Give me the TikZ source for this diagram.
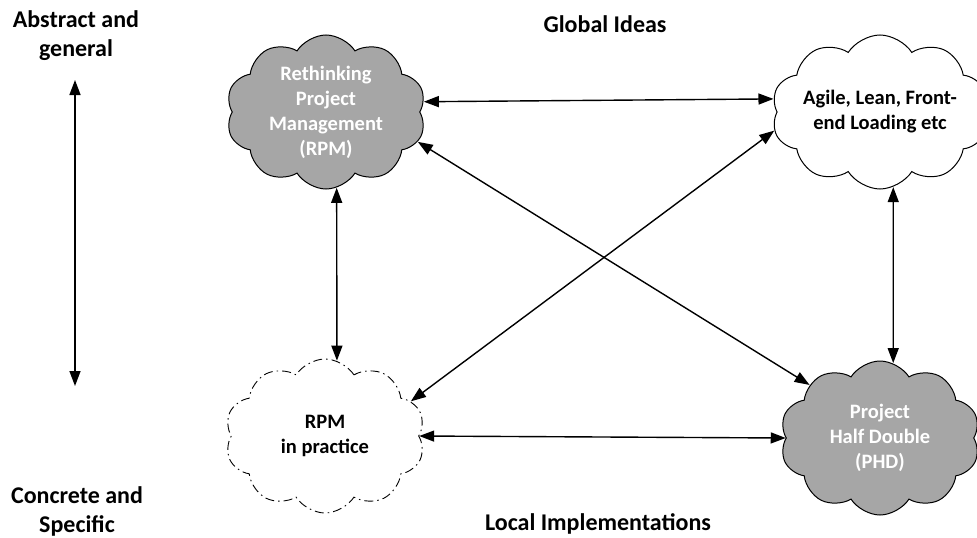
\documentclass[tikz,border=0pt]{standalone}
\usepackage{fontspec}
\setmainfont{Carlito}
\usetikzlibrary{shapes.symbols,arrows.meta}
\begin{document}
\begin{tikzpicture}[x=1pt,y=-1pt,
  cloudbase/.style={cloud, cloud puffs=10, cloud puff arc=115, cloud ignores aspect,
    minimum width=200pt, minimum height=154pt, draw=black, line width=1pt,
    align=center, font=\bfseries\fontsize{20.5}{25}\selectfont, inner sep=0pt},
  cloudgray/.style={cloudbase, fill=gray!70, text=white},
  cloudwhite/.style={cloudbase, fill=white, text=black},
  clouddash/.style={cloudbase, fill=white, text=black, dash pattern=on 9pt off 4pt on 1.5pt off 4pt, line width=0.9pt},
  lbl/.style={font=\bfseries\fontsize{24}{29}\selectfont, align=center, text=black},
  biarrow/.style={{Triangle[length=15pt,width=11pt]}-{Triangle[length=15pt,width=11pt]}, line width=1.4pt}
]
\path[use as bounding box] (0,0) rectangle (977,538);
\node[cloudgray]  (rpm)   at (326,112) {Rethinking\\Project\\Management\\(RPM)};
\node[cloudwhite] (agile) at (880,112) {Agile, Lean, Front-\\end Loading etc};
\node[clouddash]  (prac)  at (325,436) {RPM\\in practice};
\node[cloudgray]  (phd)   at (880,438) {Project\\Half Double\\(PHD)};

\node[lbl] (abs) at (76,36) {Abstract and\\general};
\node[lbl] (con) at (77,511) {Concrete and\\Specific};
\node[lbl] (glob) at (605,24) {Global Ideas};
\node[lbl] (loc) at (598,524) {Local Implementations};

\coordinate (vtop) at (75,80);
\coordinate (vbot) at (75,386);
\draw[biarrow] (vtop) -- (vbot);

\draw[biarrow] (rpm.6) -- (agile.173);
\draw[biarrow] (prac.east) -- (phd.west);
\draw[biarrow] (rpm.-82) -- (prac.81);
\draw[biarrow] (agile.-80) -- (phd.80);
\draw[biarrow] (rpm.-18) -- (phd.143);
\draw[biarrow] (agile.190) -- (prac.22);
\end{tikzpicture}
\end{document}
